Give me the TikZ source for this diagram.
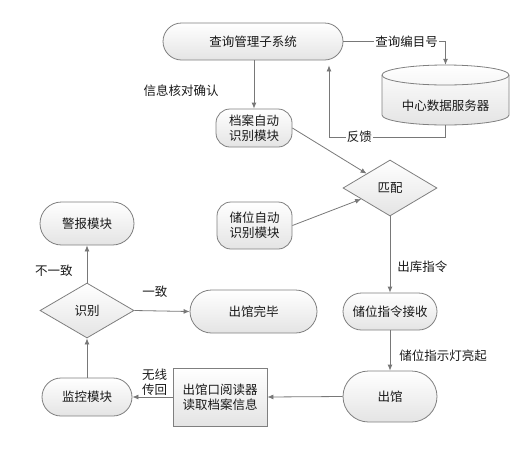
\documentclass[tikz,border=0pt]{standalone}
\usepackage{fontspec}
\newfontfamily\cjkf{Noto Sans CJK SC}
\usetikzlibrary{shapes.geometric,shapes.misc,arrows.meta,calc}
\definecolor{lc}{HTML}{787878}
\definecolor{bc}{HTML}{7F7F7F}
\definecolor{fb}{HTML}{E4E4E4}
\begin{document}
\begin{tikzpicture}[x=1pt,y=-1pt,
  every node/.style={font=\cjkf\fontsize{12.5}{15}\selectfont, text=black!90, inner sep=1pt},
  shadebox/.style={draw=bc, line width=0.8pt, top color=white, bottom color=fb, align=center},
  pill/.style={shadebox, rounded rectangle, inner sep=0pt},
  rbox/.style={shadebox, rectangle, rounded corners=14pt, inner sep=0pt},
  dia/.style={shadebox, diamond, inner sep=0pt},
  sbox/.style={shadebox, rectangle, inner sep=0pt},
  arr/.style={draw=lc, line width=0.8pt, -{Latex[length=6pt,width=5pt]}},
  lbl/.style={inner sep=1pt},
]
\useasboundingbox (0,0) rectangle (527,472);

% cylinder body (central data server)
\path[shadebox] (382,75) -- (382,115) arc[start angle=180,end angle=0,x radius=63.5,y radius=10]
  -- (509,75) arc[start angle=0,end angle=-180,x radius=63.5,y radius=10] -- cycle;
\draw[draw=bc, line width=0.8pt] (382,75) arc[start angle=180,end angle=0,x radius=63.5,y radius=10];
\node[minimum width=127pt, minimum height=60pt, inner sep=0pt] (db) at (445.5,95) {};
\node (dbt) at (445.5,106) {中心数据服务器};

% nodes
\node[pill, minimum width=180pt, minimum height=37pt] (top) at (253,41.5) {查询管理子系统};
\node[rbox, minimum width=76pt, minimum height=38pt] (da) at (254,128) {档案自动\\识别模块};
\node[dia, minimum width=94pt, minimum height=56pt] (match) at (390,188) {匹配};
\node[rbox, minimum width=75pt, minimum height=47pt] (cw) at (254.5,225.5) {储位自动\\识别模块};
\node[pill, minimum width=94pt, minimum height=37pt] (recv) at (390,311.5) {储位指令接收};
\node[pill, minimum width=94pt, minimum height=51pt] (out) at (390,396.5) {出馆};
\node[sbox, minimum width=94pt, minimum height=58pt] (reader) at (220,397) {出馆口阅读器\\读取档案信息};
\node[pill, minimum width=90pt, minimum height=38pt] (mon) at (87,397) {监控模块};
\node[dia, minimum width=94pt, minimum height=55pt] (rec) at (87,310.5) {识别};
\node[pill, minimum width=94pt, minimum height=43pt] (alarm) at (87,223.5) {警报模块};
\node[pill, minimum width=127pt, minimum height=43pt] (done) at (253.5,311.5) {出馆完毕};

% connectors
\draw[arr] (top.east) -- node[lbl, fill=white, pos=0.62]{查询编目号} (top.east -| db.north) -- (db.north);
\coordinate (fbk) at (329,137);
\draw[arr, shorten >=5pt] (db.south) |- node[lbl, fill=white, pos=0.87]{反馈} (fbk) -- (fbk |- top.south);
\draw[arr] (top.south -| da.north) -- node[lbl, anchor=east, pos=0.62, xshift=-34pt]{信息核对确认} (da.north);
\draw[arr] (da.east) -- (match);
\draw[arr] (cw.east) -- (match);
\draw[arr] (match.south) -- node[lbl, anchor=west, pos=0.66, xshift=6pt]{出库指令} (recv.north);
\draw[arr] (recv.south) -- node[lbl, anchor=west, pos=0.63, xshift=8pt]{储位指示灯亮起} (out.north);
\draw[arr] (out.west) -- (reader.east);
\draw[arr] (reader.west) -- node[lbl, anchor=south, pos=0.45, align=center]{无线\\传回} (mon.east);
\draw[arr] (mon.north) -- (rec.south);
\draw[arr] (rec.north) -- node[lbl, anchor=east, pos=0.32, xshift=-13pt]{不一致} (alarm.south);
\draw[arr] (rec.east) -- node[lbl, anchor=south, pos=0.37, yshift=12pt]{一致} (done.west);
\end{tikzpicture}
\end{document}
